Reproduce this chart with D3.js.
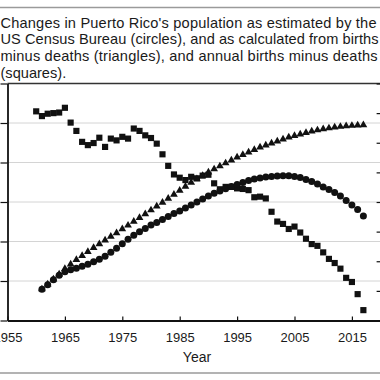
<!DOCTYPE html>
<html>
<head>
<meta charset="utf-8">
<script src="https://cdn.jsdelivr.net/npm/d3@7"></script>
<style>
  html, body { margin: 0; padding: 0; background: #fff; }
  svg { display: block; }
  text { font-family: "Liberation Sans", Arial, sans-serif; }
</style>
</head>
<body>
<script>
// ---------- data ----------
const titleLines = [
  "Changes in Puerto Rico's population as estimated by the",
  "US Census Bureau (circles), and as calculated from births",
  "minus deaths (triangles), and annual births minus deaths",
  "(squares)."
];
const xLabel = "Year";
const xTicks = [1955, 1965, 1975, 1985, 1995, 2005, 2015];
const leftTicks = [2.0, 2.5, 3.0, 3.5, 4.0, 4.5, 5.0];          // population, millions
const rightTicks = [-10, 0, 10, 20, 30, 40, 50, 60, 70];          // births minus deaths, thousands

const popYears = [1961,1962,1963,1964,1965,1966,1967,1968,1969,1970,
  1971,1972,1973,1974,1975,1976,1977,1978,1979,1980,
  1981,1982,1983,1984,1985,1986,1987,1988,1989,1990,
  1991,1992,1993,1994,1995,1996,1997,1998,1999,2000,
  2001,2002,2003,2004,2005,2006,2007,2008,2009,2010,
  2011,2012,2013,2014,2015,2016,2017];

// US Census Bureau estimate (circles), millions
const censusPop = [2.397,2.454,2.517,2.574,2.618,2.643,2.662,2.687,2.712,2.744,
  2.775,2.813,2.863,2.914,2.971,3.027,3.078,3.122,3.166,3.210,
  3.242,3.279,3.317,3.355,3.387,3.424,3.462,3.500,3.538,3.576,
  3.610,3.639,3.668,3.695,3.721,3.746,3.771,3.790,3.805,3.815,
  3.822,3.828,3.832,3.832,3.824,3.809,3.784,3.759,3.727,3.689,
  3.658,3.620,3.576,3.519,3.462,3.406,3.324];

// Calculated from births minus deaths (triangles), millions
const calcPop = [2.397,2.460,2.523,2.586,2.655,2.712,2.769,2.819,2.870,2.920,
  2.968,3.015,3.063,3.109,3.157,3.204,3.254,3.302,3.349,3.397,
  3.446,3.494,3.544,3.595,3.645,3.695,3.746,3.790,3.834,3.878,
  3.916,3.954,3.992,4.029,4.067,4.099,4.130,4.162,4.193,4.219,
  4.244,4.269,4.294,4.319,4.338,4.357,4.376,4.395,4.410,4.424,
  4.435,4.446,4.454,4.461,4.467,4.471,4.474];

const natYears = [1960,1961,1962,1963,1964,1965,1966,1967,1968,1969,1970,
  1971,1972,1973,1974,1975,1976,1977,1978,1979,1980,
  1981,1982,1983,1984,1985,1986,1987,1988,1989,1990,
  1991,1992,1993,1994,1995,1996,1997,1998,1999,2000,
  2001,2002,2003,2004,2005,2006,2007,2008,2009,2010,
  2011,2012,2013,2014,2015,2016,2017];

// Annual births minus deaths (squares), thousands
const birthsMinusDeaths = [60.6,59.0,59.8,60.0,60.2,61.8,56.8,54.0,50.3,49.2,49.9,
  51.7,48.6,51.4,50.8,52.0,51.4,54.8,54.0,52.5,51.6,
  49.7,46.1,42.2,39.3,38.2,37.4,38.5,38.0,38.9,39.2,
  36.3,34.3,35.1,35.1,34.6,34.4,34.0,31.6,31.8,31.2,
  26.7,23.4,22.6,20.9,21.7,19.7,17.6,15.8,15.2,13.0,
  10.8,9.4,7.5,4.4,3.0,-1.1,-6.5];

// ---------- layout ----------
const W = 380, H = 380;
const plotL = 7.5, plotR = 380.6, plotT = 83.5, plotB = 320.5;
const ink = "#111";

const svg = d3.select("body").append("svg")
  .attr("width", W).attr("height", H);

// frame lines of the figure
svg.append("line").attr("x1", 0).attr("x2", W).attr("y1", 7.5).attr("y2", 7.5)
  .attr("stroke", "#9a9a9a").attr("stroke-width", 1.6);
svg.append("line").attr("x1", 0).attr("x2", W).attr("y1", 373).attr("y2", 373)
  .attr("stroke", "#9a9a9a").attr("stroke-width", 1.6);

// title (justified lines spanning the figure width)
const titleSpan = [376, 378, 377, null];
svg.append("g").selectAll("text").data(titleLines).join("text")
  .attr("x", 0.5)
  .attr("y", (d, i) => 27.7 + i * 16.6)
  .attr("font-size", 14.6)
  .attr("fill", "#1a1a1a")
  .each(function(d, i) {
    if (titleSpan[i]) d3.select(this).attr("textLength", titleSpan[i]).attr("lengthAdjust", "spacing");
  })
  .text(d => d);

// scales
const x = d3.scaleLinear().domain([1955, 2020]).range([plotL, plotR]);
const yL = d3.scaleLinear().domain([2.0, 5.0]).range([plotB, plotT]);
const yR = d3.scaleLinear().domain([-10, 70]).range([plotB, plotT]);

// gridlines
svg.append("g").selectAll("line").data(leftTicks.slice(1, -1)).join("line")
  .attr("x1", plotL).attr("x2", W)
  .attr("y1", d => yL(d)).attr("y2", d => yL(d))
  .attr("stroke", "#d4d4d4").attr("stroke-width", 1);

// top border
svg.append("line").attr("x1", plotL).attr("x2", W + 2)
  .attr("y1", plotT).attr("y2", plotT)
  .attr("stroke", "#333").attr("stroke-width", 1.6);

// left axis (labels lie outside the visible area)
const gL = svg.append("g").attr("transform", `translate(${plotL},0)`)
  .call(d3.axisLeft(yL).tickValues(leftTicks).tickSizeInner(7).tickSizeOuter(0).tickFormat(""));
gL.select(".domain").attr("stroke", ink).attr("stroke-width", 1.8);
gL.selectAll(".tick line").attr("stroke", ink).attr("stroke-width", 1.2);

// right axis (inward ticks, axis line at the image edge)
const gR = svg.append("g").attr("transform", `translate(${plotR},0)`)
  .call(d3.axisRight(yR).tickValues(rightTicks).tickSizeInner(-4).tickSizeOuter(0).tickFormat(""));
gR.select(".domain").attr("stroke", ink).attr("stroke-width", 1.8);
gR.selectAll(".tick line").attr("stroke", ink).attr("stroke-width", 1.2);

// bottom axis
const gB = svg.append("g").attr("transform", `translate(0,${plotB})`)
  .call(d3.axisBottom(x).tickValues(xTicks).tickSizeInner(-4).tickSizeOuter(0)
    .tickPadding(12).tickFormat(d3.format("d")));
gB.select(".domain").attr("stroke", ink).attr("stroke-width", 1.8);
gB.selectAll(".tick line").attr("stroke", ink).attr("stroke-width", 1.2);
gB.selectAll(".tick text").attr("font-size", 13).attr("fill", "#1a1a1a")
  .attr("font-family", "'Liberation Sans', Arial, sans-serif");

// x label
svg.append("text").attr("x", 197).attr("y", 362)
  .attr("text-anchor", "middle").attr("font-size", 14).attr("fill", "#1a1a1a")
  .text(xLabel);

// squares: births minus deaths (right axis)
const sq = d3.symbol().type(d3.symbolSquare).size(38);
svg.append("g").selectAll("path").data(natYears.map((yr, i) => [yr, birthsMinusDeaths[i]])).join("path")
  .attr("d", sq)
  .attr("transform", d => `translate(${x(d[0])},${yR(d[1])})`)
  .attr("fill", ink);

// triangles: calculated population (left axis)
const tri = d3.symbol().type(d3.symbolTriangle).size(26);
svg.append("g").selectAll("path").data(popYears.map((yr, i) => [yr, calcPop[i]])).join("path")
  .attr("d", tri)
  .attr("transform", d => `translate(${x(d[0])},${yL(d[1])})`)
  .attr("fill", ink);

// circles: census estimate (left axis)
svg.append("g").selectAll("circle").data(popYears.map((yr, i) => [yr, censusPop[i]])).join("circle")
  .attr("cx", d => x(d[0])).attr("cy", d => yL(d[1]))
  .attr("r", 3.5)
  .attr("fill", ink);
</script>
</body>
</html>
